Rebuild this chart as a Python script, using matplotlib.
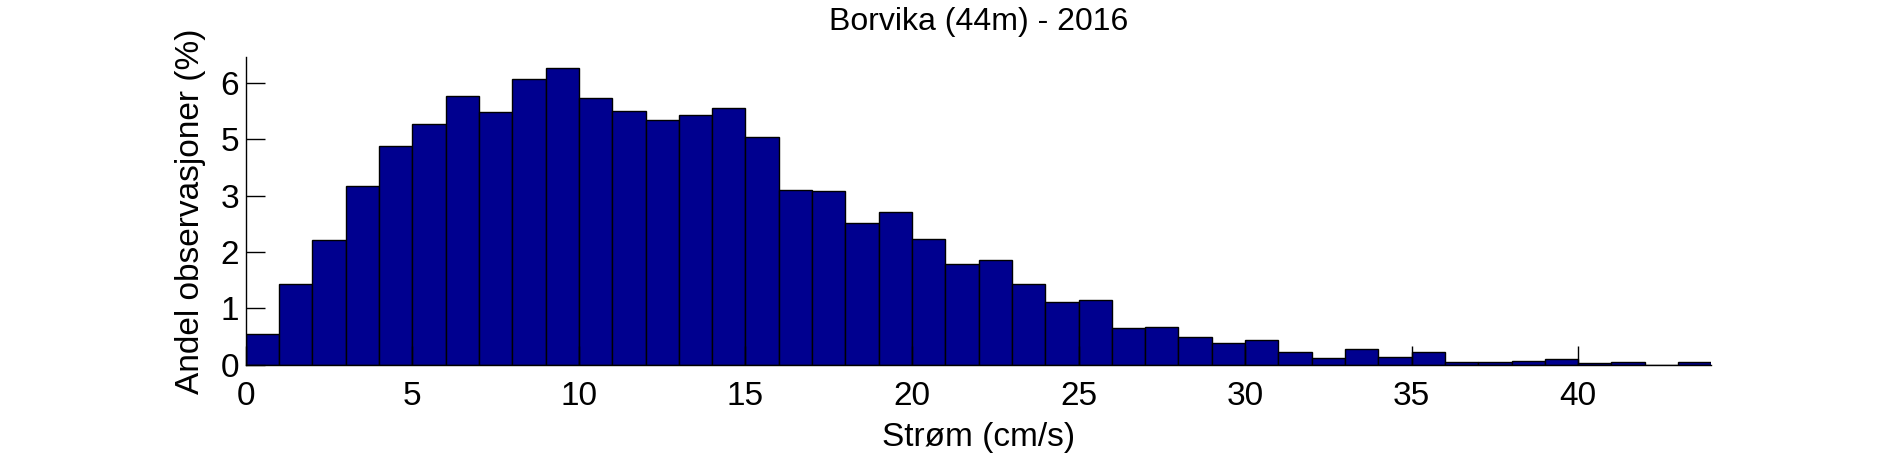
import matplotlib
matplotlib.use("Agg")
import matplotlib.pyplot as plt
import numpy as np

plt.rcParams['font.family'] = ['Liberation Sans', 'DejaVu Sans']

title = "Borvika (44m) - 2016"
xlabel = "Strøm (cm/s)"
ylabel = "Andel observasjoner (%)"

bin_left = list(range(0, 44))
values = [0.68, 1.79, 2.76, 3.96, 4.84, 5.33, 5.95, 5.60, 6.32, 6.57,
          5.90, 5.62, 5.42, 5.53, 5.68, 5.04, 3.87, 3.85, 3.14, 3.38,
          2.79, 2.23, 2.32, 1.79, 1.39, 1.43, 0.81, 0.84, 0.62, 0.49,
          0.55, 0.28, 0.15, 0.35, 0.18, 0.29, 0.06, 0.06, 0.09, 0.13,
          0.04, 0.07, 0.0, 0.07]

xticks = [0, 5, 10, 15, 20, 25, 30, 35, 40]
yticks = [0, 1.25, 2.5, 3.75, 5.0, 6.25]
ytick_labels = ['0', '1', '2', '3', '5', '6']

fig = plt.figure(figsize=(18.91, 4.55), dpi=100)
ax = fig.add_axes([0.130, 0.198, 0.775, 0.677])

ax.bar(bin_left, values, width=1.0, align='edge', color='#00008F',
       edgecolor='black', linewidth=1.0)

ax.set_xlim(0, 44)
ax.set_ylim(0, 6.82)
ax.set_xticks(xticks)
ax.set_xticklabels([str(t) for t in xticks])
ax.set_yticks(yticks)
ax.set_yticklabels(ytick_labels)

for s in ['top', 'right']:
    ax.spines[s].set_visible(False)
ax.spines['left'].set_linewidth(1.0)
ax.spines['bottom'].set_linewidth(1.0)
ax.tick_params(direction='in', length=14, width=1.0, labelsize=24)
ax.tick_params(axis='x', pad=11.5)
ax.tick_params(axis='y', pad=5)

ax.set_title(title, fontsize=23, pad=19)
ax.set_xlabel(xlabel, fontsize=24, labelpad=7)
ax.set_ylabel(ylabel, fontsize=24, labelpad=10)

fig.savefig("out.png", dpi=100)
